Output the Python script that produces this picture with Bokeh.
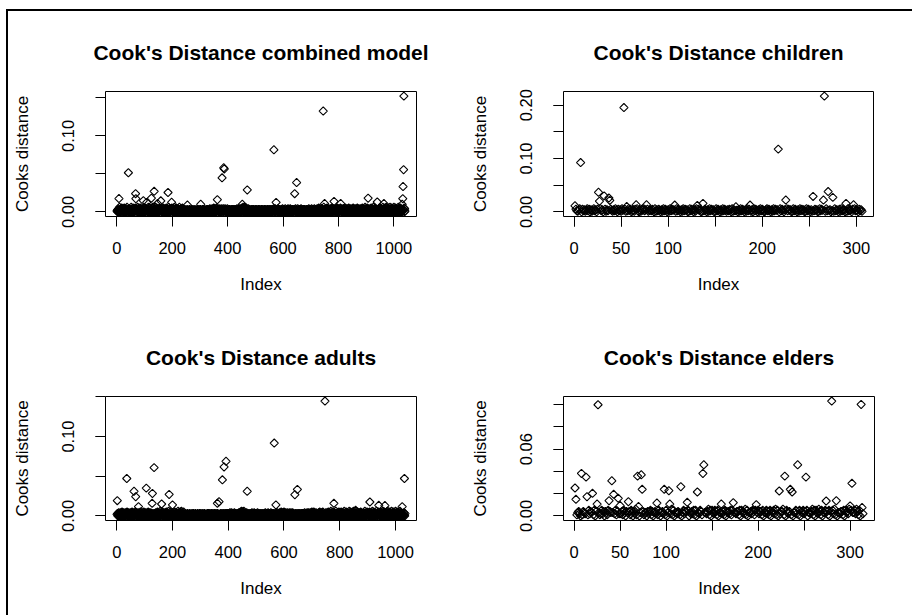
import numpy as np
from bokeh.plotting import figure
from bokeh.layouts import row, column
from bokeh.models import Range1d, FixedTicker, PrintfTickFormatter, Spacer
from bokeh.embed import file_html
from bokeh.resources import INLINE

# ---------------------------------------------------------------------------
# Cook's distances per observation.
# The dense band near zero is stored as digits in units of 0.001 (one digit per
# observation, in index order); larger values are listed as (index, value).
# ---------------------------------------------------------------------------
combined_base = (
    "1203140216 0312041523 1402305121 0314206132 1502413021 2613042150 3120415203 1420613025"
    "0213504120 3142061302 4150213042 1306214052 0312405126 0314207130 2415032104 1230514203"
    "2104130521 0314023150 4120316204 1302413051 2031420613 0214503120 4132061302 1403125041"
    "1020130210 2013021021 0302102013 0210320120 1302101203 0120213012 0310201230 1021302102"
    "0130210312 0213041203 1024130215 0314021305 1203142031 0412302140 3120412031 4021302140"
    "1302103120 2130213021 0312031203 1204132031 2041320413 0524160315 2604135042 1302412031"
    "0210320130 2103120213 0210312021 3021031202 1302103120 2130210321 0213021031 2031203120"
    "1302140312 0413021302 1403120312 0213021403 1203120412 0312031402 1302140312 0213021031"
    "2031402130 2140312031 2031402130 2103120312 0213021031 2041302130 2140312031 2041302130"
    "2140312051 3021403120 4130216031 2041302150 3120413021 4031205130 2140312041 3021503120"
    "4130215031 2041302140 3120513021 4031205130 2140312041 3052140312 0413021503 1204130214"
    "0312051302 1403160413 0215031204 1302140512 0413061302 1504130216 0312041503 1204130216"
    "0413021503 1604130215 0312061304 1502130416 0213051204 1302160413 0215031204 1603125041"
)
combined_idx = [8, 42, 68, 69, 96, 108, 125, 135, 147, 159, 185, 198, 255, 303, 363,
                380, 386, 388, 453, 471, 567, 575, 642, 649, 745, 750, 784, 808, 907,
                940, 964, 1030, 1032, 1033, 1035, 1036]
combined_val = [0.0175, 0.0515, 0.024, 0.0173, 0.0147, 0.0124, 0.018, 0.027, 0.011,
                0.0145, 0.0255, 0.0126, 0.009, 0.010, 0.016, 0.0448, 0.058, 0.0565,
                0.010, 0.0289, 0.0817, 0.0124, 0.024, 0.0386, 0.1328, 0.011, 0.0137,
                0.011, 0.018, 0.013, 0.011, 0.010, 0.0173, 0.0333, 0.0555, 0.1524]

children_base = (
    "3521463052 4136250413 6240531624 0351426053 1426305241 6305142635 0241536204 1536240513"
    "4253061425 3041625304 1625340162 5304162534 0162530416 2534016253 0416253401 6253041625"
    "3142530614 2530416253 0416253140 6253041625 3014625304 1625341062 5304162534 0162530416"
    "2534016253 0416253401 6253041625 3402516243 0516243051 6243051624 305241"
)
children_idx = [1, 7, 26, 27, 32, 37, 38, 53, 56, 66, 77, 107, 131, 137, 172, 187, 217,
                225, 254, 265, 266, 270, 275, 289, 297]
children_val = [0.0114, 0.0924, 0.0367, 0.020, 0.030, 0.026, 0.0215, 0.1956, 0.010,
                0.0133, 0.0133, 0.0127, 0.012, 0.0158, 0.0095, 0.0127, 0.1177, 0.0222,
                0.029, 0.0222, 0.2171, 0.038, 0.0272, 0.0158, 0.0133]

adults_base = (
    "2130214031 2041302150 3120413021 4031205130 2140312041 3021503120 4130215031 2041302140"
    "3120513021 4031205130 2140312041 3052140312 0413021503 1204130214 0312051302 1403160413"
    "0215031204 1302140512 0413061302 1504130216 0312041503 1204130216 0413021503 1604130215"
    "1020130210 2013021021 0302102013 0210320120 1302101203 0120213012 0310201230 1021302102"
    "0210320130 2103120213 0210312021 3021031202 1302103120 2130210321 0213021031 2031203120"
    "1302140312 0413021302 1403120312 0213021403 1205140612 0513061402 1302140312 0213021031"
    "2031402130 2140312031 2031402130 2103120312 0213021031 2041302130 2140312031 2041302130"
    "0130210312 0213041203 1024130215 0314021305 1203142031 0412302140 3120412031 4021302140"
    "1302103120 2130213021 0312031203 1204132031 2041320413 0324130315 2304135042 1302412031"
    "2104130521 0314023150 4120316204 1302413051 2031420613 0214503120 4132061302 1403125041"
    "0213504120 3142061302 4150213042 1306214052 0312405126 0314207130 2415032104 1230514203"
    "1203140216 0312041523 1402305121 0314206132 1502413021 2613042150 3120415203 1420613025"
    "0413021503 1604130215 0312061304 1502130416 0213051204 1302160413 0215031204 1603"
)
adults_idx = [2, 36, 62, 68, 78, 106, 127, 128, 134, 161, 188, 200, 361, 367, 379, 385,
              392, 468, 565, 571, 639, 648, 747, 779, 908, 940, 962, 1024, 1032]
adults_val = [0.0192, 0.0471, 0.031, 0.0242, 0.0117, 0.035, 0.0158, 0.0283, 0.0608,
              0.015, 0.027, 0.0138, 0.0158, 0.0179, 0.0454, 0.0617, 0.0688, 0.031,
              0.0917, 0.0138, 0.0267, 0.0333, 0.1446, 0.0158, 0.0175, 0.0133, 0.013,
              0.0117, 0.0471]

elders_base = (
    "2413420514 3240152435 1504263125 2404315243 0342514023 2415304324 1530426124 0352413304"
    "2451403425 1530342215 0354261503 3243150352 4415032425 1504325415 0332461505 3254150332"
    "2415043425 1503324415 0534261503 3425415035 2441503352 4150435261 5032446150 5324415033"
    "5261504352 4150332461 5053264150 3352415043 5261503324 4150534261 5033526415 0352"
)
elders_idx = [1, 2, 8, 13, 14, 20, 25, 26, 38, 41, 43, 48, 50, 59, 69, 70, 73, 74, 90,
              98, 103, 104, 116, 123, 134, 140, 141, 160, 173, 198, 223, 229, 235, 237,
              243, 252, 274, 280, 285, 300, 302, 312, 313]
elders_val = [0.0251, 0.0149, 0.0382, 0.0349, 0.0173, 0.0203, 0.0107, 0.100, 0.0137,
              0.0316, 0.0194, 0.0158, 0.0093, 0.0128, 0.0358, 0.0084, 0.037, 0.0239,
              0.0116, 0.0239, 0.0227, 0.0107, 0.0263, 0.0122, 0.0215, 0.0382, 0.046,
              0.0107, 0.0119, 0.0101, 0.0224, 0.0358, 0.0239, 0.0215, 0.046, 0.0349,
              0.0134, 0.1033, 0.0137, 0.009, 0.0293, 0.1003, 0.0075]

# axis ticks: labelled ticks and all tick marks
big_x_labels = [0, 200, 400, 600, 800, 1000]
small_x_labels = [0, 50, 100, 200, 300]
small_x_marks = [0, 50, 100, 150, 200, 250, 300]

FONT = "Liberation Sans"


def cooks(base, idx, val):
    d = np.array([int(c) for c in base.replace(" ", "")], dtype=float) / 1000.0
    for i, v in zip(idx, val):
        d[i - 1] = v
    return d


def panel(title, d, x_labels, x_marks, y_labels, y_marks, w, h, bl, br, bt, bb):
    n = len(d)
    x = np.arange(1, n + 1)
    xpad = 0.04 * (n - 1)
    lo, hi = d.min(), d.max()
    ypad = 0.04 * (hi - lo)
    p = figure(width=w, height=h, output_backend="svg", toolbar_location=None,
               x_range=Range1d(1 - xpad, n + xpad), y_range=Range1d(lo - ypad, hi + ypad),
               min_border_left=bl, min_border_right=br, min_border_top=bt, min_border_bottom=bb,
               background_fill_color="white", border_fill_color="white",
               title=title)
    p.title.align = "center"
    p.title.text_font = FONT
    p.title.text_font_size = "21px"
    p.title.text_font_style = "bold"
    p.title.text_color = "black"
    p.title.standoff = 55

    p.outline_line_color = "black"
    p.outline_line_width = 1
    p.outline_line_alpha = 1
    p.xgrid.visible = False
    p.ygrid.visible = False

    p.scatter(x, d, marker="square", size=5.8, angle=np.pi / 4,
              fill_color=None, line_color="black", line_width=1.1)

    p.xaxis.ticker = FixedTicker(ticks=x_labels, minor_ticks=x_marks)
    p.yaxis.ticker = FixedTicker(ticks=y_labels, minor_ticks=y_marks)
    p.yaxis.formatter = PrintfTickFormatter(format="%.2f")
    p.yaxis.major_label_orientation = "vertical"
    p.xaxis.axis_label = "Index"
    p.yaxis.axis_label = "Cooks distance"
    p.xaxis.major_label_standoff = 15
    p.yaxis.major_label_standoff = 21
    p.xaxis.axis_label_standoff = 18
    p.yaxis.axis_label_standoff = 28
    for ax in (p.xaxis[0], p.yaxis[0]):
        ax.axis_line_color = None
        ax.major_tick_in = 0
        ax.major_tick_out = 10
        ax.minor_tick_in = 0
        ax.minor_tick_out = 10
        ax.major_tick_line_color = "black"
        ax.minor_tick_line_color = "black"
        ax.major_label_text_font = FONT
        ax.major_label_text_font_size = "16.5px"
        ax.major_label_text_color = "black"
        ax.axis_label_text_font = FONT
        ax.axis_label_text_font_size = "17px"
        ax.axis_label_text_font_style = "normal"
        ax.axis_label_text_color = "black"
    return p


combined = cooks(combined_base, combined_idx, combined_val)
children = cooks(children_base, children_idx, children_val)
adults = cooks(adults_base, adults_idx, adults_val)
elders = cooks(elders_base, elders_idx, elders_val)

p1 = panel("Cook's Distance combined model", combined, big_x_labels, [],
           [0, 0.10], [0, 0.05, 0.10, 0.15], 458, 305, 97, 50, 80, 100)
p2 = panel("Cook's Distance children", children, small_x_labels, small_x_marks,
           [0, 0.10, 0.20], [0, 0.05, 0.10, 0.15, 0.20], 446, 305, 97, 39, 80, 100)
p3 = panel("Cook's Distance adults", adults, big_x_labels, [],
           [0, 0.10], [0, 0.05, 0.10, 0.15], 458, 299, 97, 50, 80, 95)
p4 = panel("Cook's Distance elders", elders, small_x_labels, small_x_marks,
           [0, 0.06], [0, 0.02, 0.04, 0.06, 0.08, 0.10], 446, 299, 97, 38, 80, 95)

black = {"background-color": "black"}
grid = column(row(p1, p2), row(p3, p4))
page = column(
    Spacer(width=912, height=9),
    row(Spacer(width=6, height=606),
        column(Spacer(width=906, height=2, styles=black),
               row(Spacer(width=2, height=604, styles=black), grid))),
)

open("out.html", "w").write(file_html(page, INLINE))
